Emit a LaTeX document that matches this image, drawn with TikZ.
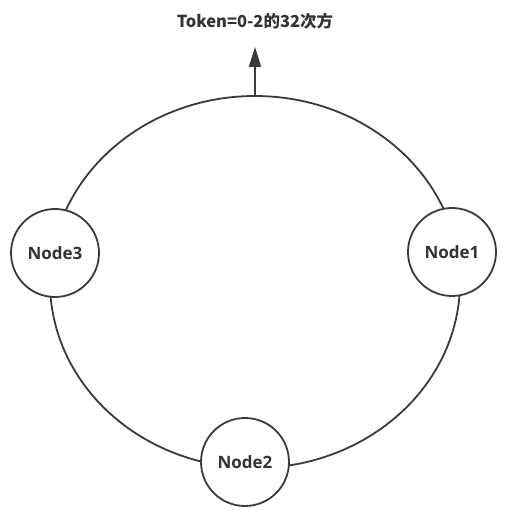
\documentclass[tikz,border=0pt]{standalone}
\usepackage{fontspec}
\setmainfont{Open Sans}
\newfontfamily\cjkfont{Noto Sans CJK SC}
\usetikzlibrary{arrows.meta,positioning}
\definecolor{ringgray}{HTML}{3A3A3A}
\definecolor{textgray}{HTML}{333333}
\tikzset{
  ringnode/.style={circle, draw=ringgray, line width=1.8pt, fill=white,
    minimum size=88pt, inner sep=0pt, text=textgray,
    font=\fontsize{17}{20}\selectfont\bfseries},
  ringline/.style={draw=ringgray, line width=1.8pt}
}
\begin{document}
\begin{tikzpicture}[x=1pt, y=-1pt]
\useasboundingbox (0,0) rectangle (531,513);
% ring
 \draw[ringline] (255,282) ellipse [x radius=205pt, y radius=186pt];
 \coordinate (top) at (255,96);
% nodes
 \node[ringnode] (node3) at (55,253) {Node3};
 \node[ringnode] (node1) at (452,252) {Node1};
 \node[ringnode] (node2) at (245,462) {Node2};
 \node[text=textgray, inner sep=2pt, font=\cjkfont\fontsize{16.5}{19}\selectfont\bfseries] (token) at (255,21) {Token=0-2的32次方};
 \coordinate (tip) at (255,47);
% edges
 \draw[ringline, line width=2pt, -{Triangle[length=20pt,width=12pt]}] (top) -- (tip);
\end{tikzpicture}
\end{document}
